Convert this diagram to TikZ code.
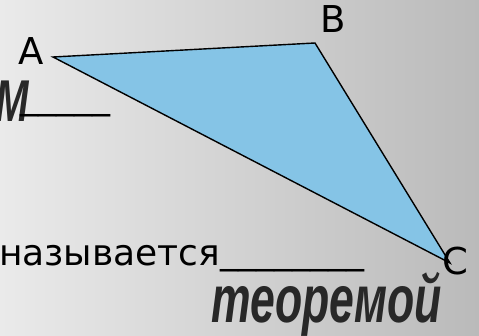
\documentclass[tikz,border=0pt]{standalone}
\usepackage{fontspec}
\setmainfont{DejaVu Sans}
\newfontfamily\ansfont{Liberation Sans}
\definecolor{bgl}{RGB}{234,234,234}
\definecolor{bgr}{RGB}{186,186,186}
\definecolor{trifill}{RGB}{133,196,230}
\definecolor{ansgray}{RGB}{40,40,40}
\begin{document}
\begin{tikzpicture}[x=1pt,y=-1pt,
  lbl/.style={font=\fontsize{37}{40}\selectfont, inner sep=0pt, anchor=base, text=black},
  txt/.style={font=\fontsize{36}{40}\selectfont, inner sep=0pt, anchor=base west, text=black},
  ans/.style={font=\ansfont\bfseries\itshape, inner sep=0pt, text=ansgray},
  tri/.style={draw=black, line width=1.4pt, fill=trifill, line join=miter}]
\useasboundingbox (0,0) rectangle (479,336);
\clip (0,0) rectangle (479,336);
\shade[left color=bgl, right color=bgr] (0,0) rectangle (479,336);
\coordinate (A) at (53,57);
\coordinate (B) at (315,43);
\coordinate (C) at (450,263);
\filldraw[tri] (A) -- (B) -- (C) -- cycle;
\node[lbl] (la) at (31,65) {A};
\node[lbl] (lb) at (333,33) {B};
\node[lbl] (lc) at (455,275) {C};
\node[ans, anchor=base east, font=\ansfont\bfseries\itshape\fontsize{59}{62}\selectfont] (m) at (29,122) {\scalebox{0.68}[1]{М}};
\node[txt] (ul) at (20,109) {\_\_\_\_\_};
\node[txt] (naz) at (-1,266) {называется\raisebox{2.5pt}{\_\_\_\_\_\_\_\_}};
\node[ans, anchor=base west, font=\ansfont\bfseries\itshape\fontsize{67}{70}\selectfont] (teo) at (211,323) {\scalebox{0.665}[1]{теоремой}};
\end{tikzpicture}
\end{document}
